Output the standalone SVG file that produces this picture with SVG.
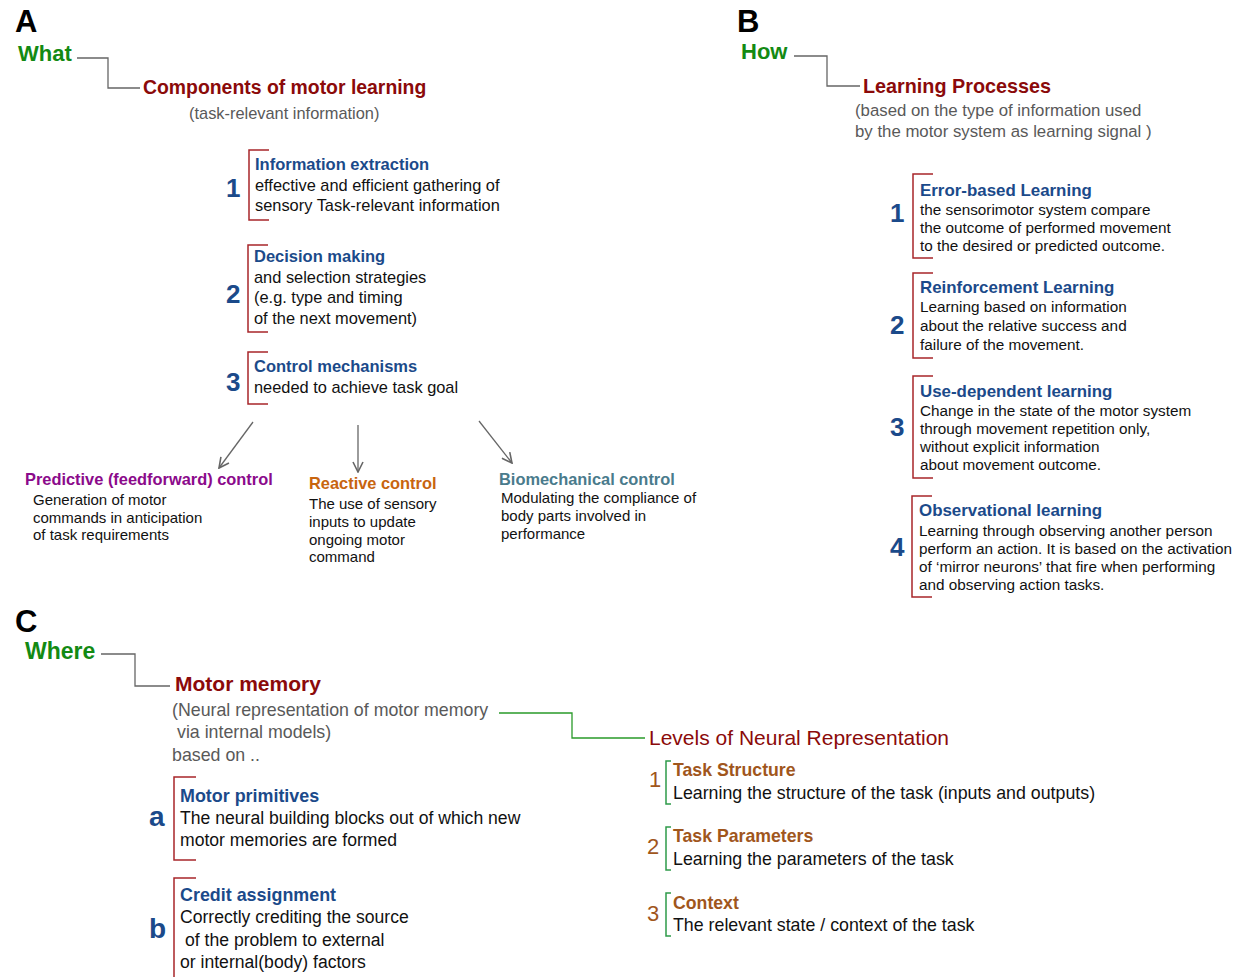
<svg xmlns="http://www.w3.org/2000/svg" width="1237" height="977" viewBox="0 0 1237 977">
<defs>
<marker id="arr" viewBox="0 0 12 12" refX="11" refY="6" markerWidth="12" markerHeight="12" markerUnits="userSpaceOnUse" orient="auto">
<path d="M1,1 L11,6 L1,11" fill="none" stroke="#666" stroke-width="1.6"/>
</marker>
</defs>
<style>
text{font-family:"Liberation Sans",Arial,sans-serif;}
.panel{font-size:31px;font-weight:bold;fill:#000;}
.q{font-weight:bold;fill:#138a13;}
.head{font-weight:bold;fill:#8b0a0a;}
.sub{fill:#595959;}
.title{font-weight:bold;fill:#1b4a8a;}
.num{font-weight:bold;fill:#1b4a8a;}
.desc{fill:#111;}
.br{fill:none;stroke:#a8262a;stroke-width:1.5;}
.gbr{fill:none;stroke:#2e9a4a;stroke-width:1.5;}
.conn{fill:none;stroke:#666;stroke-width:1.3;}
.gconn{fill:none;stroke:#2a9a2a;stroke-width:1.3;}
.brown{fill:#a0561c;}
</style>

<g id="connectors">
<path class="conn" d="M77,58 H108 V88 H140"/>
<path class="conn" d="M794,56 H827 V86 H860"/>
<path class="conn" d="M101,654 H135 V686 H170"/>
<path class="gconn" d="M499,713 H572 V738 H645"/>
<line class="conn" x1="253" y1="422" x2="219" y2="468" marker-end="url(#arr)"/>
<line class="conn" x1="358" y1="425" x2="358" y2="472" marker-end="url(#arr)"/>
<line class="conn" x1="479" y1="421" x2="512" y2="463" marker-end="url(#arr)"/>
</g>

<g id="panelA">
<text class="panel" x="15" y="32">A</text>
<text class="q" x="18" y="61" font-size="22">What</text>
<text class="head" x="143" y="94" font-size="19.4">Components of motor learning</text>
<text class="sub" x="189" y="119" font-size="16.4">(task-relevant information)</text>
</g>

<g id="a1">
<path class="br" d="M269,150 H249 V220 H269"/>
<text class="num" x="226" y="197" font-size="26">1</text>
<text class="title" x="255" y="170" font-size="16.5">Information extraction</text>
<text class="desc" x="255" y="191" font-size="16.4">effective and efficient gathering of</text>
<text class="desc" x="255" y="211" font-size="16.4">sensory Task-relevant information</text>
</g>

<g id="a2">
<path class="br" d="M268,245 H248 V332 H268"/>
<text class="num" x="226" y="303" font-size="26">2</text>
<text class="title" x="254" y="262" font-size="16.5">Decision making</text>
<text class="desc" x="254" y="283" font-size="16.4">and selection strategies</text>
<text class="desc" x="254" y="303" font-size="16.4">(e.g. type and timing</text>
<text class="desc" x="254" y="324" font-size="16.4">of the next movement)</text>
</g>

<g id="a3">
<path class="br" d="M268,352 H248 V404 H268"/>
<text class="num" x="226" y="391" font-size="26">3</text>
<text class="title" x="254" y="372" font-size="16.5">Control mechanisms</text>
<text class="desc" x="254" y="393" font-size="16.4">needed to achieve task goal</text>
</g>

<g id="predictive">
<text x="25" y="485" font-size="16.4" font-weight="bold" fill="#8b0a8b">Predictive (feedforward) control</text>
<text class="desc" x="33" y="505" font-size="15">Generation of motor</text>
<text class="desc" x="33" y="523" font-size="15">commands in anticipation</text>
<text class="desc" x="33" y="540" font-size="15">of task requirements</text>
</g>

<g id="reactive">
<text x="309" y="489" font-size="16.4" font-weight="bold" fill="#c8650f">Reactive control</text>
<text class="desc" x="309" y="509" font-size="15">The use of sensory</text>
<text class="desc" x="309" y="527" font-size="15">inputs to update</text>
<text class="desc" x="309" y="545" font-size="15">ongoing motor</text>
<text class="desc" x="309" y="562" font-size="15">command</text>
</g>

<g id="biomech">
<text x="499" y="485" font-size="16.4" font-weight="bold" fill="#4a7b8c">Biomechanical control</text>
<text class="desc" x="501" y="503" font-size="15">Modulating the compliance of</text>
<text class="desc" x="501" y="521" font-size="15">body parts involved in</text>
<text class="desc" x="501" y="539" font-size="15">performance</text>
</g>

<g id="panelB">
<text class="panel" x="737" y="32">B</text>
<text class="q" x="741" y="59" font-size="22">How</text>
<text class="head" x="863" y="93" font-size="19.8">Learning Processes</text>
<text class="sub" x="855" y="116" font-size="16.8">(based on the type of information used</text>
<text class="sub" x="855" y="137" font-size="16.8">by the motor system as learning signal )</text>
</g>

<g id="b1">
<path class="br" d="M933,174 H913 V258 H933"/>
<text class="num" x="890" y="222" font-size="26">1</text>
<text class="title" x="920" y="196" font-size="16.9">Error-based Learning</text>
<text class="desc" x="920" y="215" font-size="15.3">the sensorimotor system compare</text>
<text class="desc" x="920" y="233" font-size="15.3">the outcome of performed movement</text>
<text class="desc" x="920" y="251" font-size="15.3">to the desired or predicted outcome.</text>
</g>

<g id="b2">
<path class="br" d="M933,273 H913 V358 H933"/>
<text class="num" x="890" y="334" font-size="26">2</text>
<text class="title" x="920" y="293" font-size="16.9">Reinforcement Learning</text>
<text class="desc" x="920" y="312" font-size="15.3">Learning based on information</text>
<text class="desc" x="920" y="331" font-size="15.3">about the relative success and</text>
<text class="desc" x="920" y="350" font-size="15.3">failure of the movement.</text>
</g>

<g id="b3">
<path class="br" d="M933,376 H913 V478 H933"/>
<text class="num" x="890" y="436" font-size="26">3</text>
<text class="title" x="920" y="397" font-size="16.9">Use-dependent learning</text>
<text class="desc" x="920" y="416" font-size="15.3">Change in the state of the motor system</text>
<text class="desc" x="920" y="434" font-size="15.3">through movement repetition only,</text>
<text class="desc" x="920" y="452" font-size="15.3">without explicit information</text>
<text class="desc" x="920" y="470" font-size="15.3">about movement outcome.</text>
</g>

<g id="b4">
<path class="br" d="M932,496 H912 V597 H932"/>
<text class="num" x="890" y="556" font-size="26">4</text>
<text class="title" x="919" y="516" font-size="16.9">Observational learning</text>
<text class="desc" x="919" y="536" font-size="15.3">Learning through observing another person</text>
<text class="desc" x="919" y="554" font-size="15.3">perform an action. It is based on the activation</text>
<text class="desc" x="919" y="572" font-size="15.3">of ‘mirror neurons’ that fire when performing</text>
<text class="desc" x="919" y="590" font-size="15.3">and observing action tasks.</text>
</g>

<g id="panelC">
<text class="panel" x="15" y="632">C</text>
<text class="q" x="25" y="659" font-size="23">Where</text>
<text class="head" x="175" y="691" font-size="21">Motor memory</text>
<text class="sub" x="172" y="716" font-size="17.8">(Neural representation of motor memory</text>
<text class="sub" x="177" y="738" font-size="17.8">via internal models)</text>
<text class="sub" x="172" y="761" font-size="17.8">based on ..</text>
</g>

<g id="ca">
<path class="br" d="M196,777 H174 V860 H196"/>
<text class="num" x="149" y="826" font-size="28">a</text>
<text class="title" x="180" y="802" font-size="17.9">Motor primitives</text>
<text class="desc" x="180" y="824" font-size="17.6">The neural building blocks out of which new</text>
<text class="desc" x="180" y="846" font-size="17.6">motor memories are formed</text>
</g>

<g id="cb">
<path class="br" d="M196,878 H174 V977"/>
<text class="num" x="149" y="938" font-size="28">b</text>
<text class="title" x="180" y="901" font-size="17.9">Credit assignment</text>
<text class="desc" x="180" y="923" font-size="17.6">Correctly crediting the source</text>
<text class="desc" x="185" y="946" font-size="17.6">of the problem to external</text>
<text class="desc" x="180" y="968" font-size="17.6">or internal(body) factors</text>
</g>

<g id="levels">
<text x="649" y="745" font-size="21" fill="#8b0a0a">Levels of Neural Representation</text>
</g>

<g id="l1">
<path class="gbr" d="M671,761 H666 V804 H671"/>
<text class="brown" x="649" y="787" font-size="22">1</text>
<text class="brown" x="673" y="776" font-size="17.7" font-weight="bold">Task Structure</text>
<text class="desc" x="673" y="799" font-size="17.8">Learning the structure of the task (inputs and outputs)</text>
</g>

<g id="l2">
<path class="gbr" d="M671,827 H666 V870 H671"/>
<text class="brown" x="647" y="854" font-size="22">2</text>
<text class="brown" x="673" y="842" font-size="17.7" font-weight="bold">Task Parameters</text>
<text class="desc" x="673" y="865" font-size="17.8">Learning the parameters of the task</text>
</g>

<g id="l3">
<path class="gbr" d="M671,893 H666 V936 H671"/>
<text class="brown" x="647" y="921" font-size="22">3</text>
<text class="brown" x="673" y="909" font-size="17.7" font-weight="bold">Context</text>
<text class="desc" x="673" y="931" font-size="17.8">The relevant state / context of the task</text>
</g>
</svg>
